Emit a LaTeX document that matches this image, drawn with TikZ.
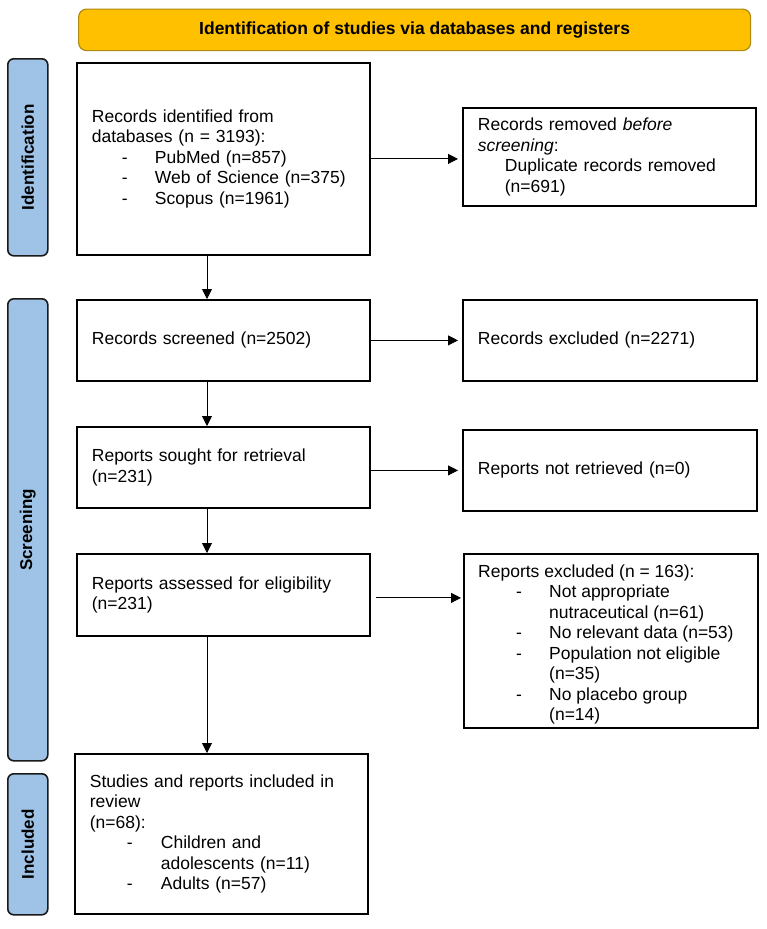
\documentclass[tikz,border=0pt]{standalone}
\usepackage{fontspec}
\setmainfont{Liberation Sans}
\usetikzlibrary{arrows.meta}

\definecolor{headfill}{HTML}{FFC000}
\definecolor{headline}{HTML}{B08A10}
\definecolor{phasefill}{HTML}{9FC3E7}
\definecolor{phaseline}{HTML}{1A1A1A}

\newcommand{\bodyfont}{\fontsize{17.5}{20.5}\selectfont}
\newcommand{\labelfont}{\fontsize{17}{20}\selectfont\bfseries}
% bullet line: left indent, gap to item text, item text
\newcommand{\dashitem}[3]{\hspace*{#1}\makebox[#2][l]{-}#3}
\newcommand{\contline}[2]{\hspace*{#1}#2}

\tikzset{
  flowbox/.style={draw=black, line width=1.8pt, fill=white, anchor=north west,
    inner xsep=15pt, inner ysep=0pt, align=left, font=\bodyfont},
  flowtext/.style={anchor=west, inner sep=0pt, align=left, font=\bodyfont},
  phasebar/.style={draw=phaseline, fill=phasefill, line width=1.6pt,
    rounded corners=6pt, anchor=north west, minimum width=40pt, inner sep=0pt},
  phaselabel/.style={rotate=90, font=\labelfont, inner sep=0pt},
  headbar/.style={draw=headline, fill=headfill, line width=1.2pt,
    rounded corners=8pt, anchor=north west, inner sep=0pt,
    font=\fontsize{17.5}{20}\selectfont\bfseries},
  arr/.style={-{Triangle[length=10pt,width=10pt]}, line width=0.9pt, draw=black},
}

\begin{document}
\begin{tikzpicture}[x=1pt,y=-1pt]
\useasboundingbox[fill=white] (0,0) rectangle (767,929);

% title banner
\node[headbar, minimum width=672pt, minimum height=41.5pt] (head) at (78,8.5)
  {Identification of studies via databases and registers};

% phase bars on the left
\node[phasebar, minimum height=197pt] (pid) at (7,58) {};
\node[phaselabel] (pidl) at (pid.center) {Identification};
\node[phasebar, minimum height=462pt] (pscr) at (7,298) {};
\node[phaselabel] (pscrl) at (pscr.center) {Screening};
\node[phasebar, minimum height=141pt] (pinc) at (7,773) {};
\node[phaselabel] (pincl) at (pinc.center) {Included};

% main column
\node[flowbox, minimum width=293pt, minimum height=192pt, text width=263pt] (b1) at (76,62)
  {Records identified from\\
   databases (n = 3193):\\
   \dashitem{30pt}{33pt}{PubMed (n=857)}\\
   \dashitem{30pt}{33pt}{Web of Science (n=375)}\\
   \dashitem{30pt}{33pt}{Scopus (n=1961)}};

\node[flowbox, minimum width=293pt, minimum height=81pt, text width=263pt] (b2) at (76,299)
  {Records screened (n=2502)};

\node[flowbox, minimum width=293pt, minimum height=81pt, text width=263pt] (b3) at (76,426)
  {Reports sought for retrieval\\(n=231)};

\node[flowbox, minimum width=293pt, minimum height=82pt, text width=263pt] (b4) at (76,553)
  {Reports assessed for eligibility\\(n=231)};

\node[flowbox, minimum width=293pt, minimum height=160pt, text width=263pt] (b5) at (74,753)
  {Studies and reports included in\\
   review\\
   (n=68):\\
   \dashitem{37pt}{34pt}{Children and}\\
   \contline{71pt}{adolescents (n=11)}\\
   \dashitem{37pt}{34pt}{Adults (n=57)}};

% side column
\node[flowbox, minimum width=293pt, minimum height=98pt, text width=263pt] (rm) at (462,107)
  {Records removed \textit{before}\\
   \textit{screening}:\\
   \contline{27pt}{Duplicate records removed}\\
   \contline{27pt}{(n=691)}};

\node[flowbox, minimum width=294pt, minimum height=81pt, text width=264pt] (ex2) at (462,299)
  {Records excluded (n=2271)};

\node[flowbox, minimum width=294pt, minimum height=81pt, text width=264pt] (nr) at (462,429)
  {Reports not retrieved (n=0)};

\node[flowbox, minimum width=294pt, minimum height=174pt] (ex4) at (463,553) {};
\node[flowtext, font=\fontsize{17.5}{20.5}\selectfont] (ex4t)
  at ([xshift=15pt, yshift=-3.5pt]ex4.west)
  {Reports excluded (n = 163):\\
   \dashitem{38pt}{33pt}{Not appropriate}\\
   \contline{71pt}{nutraceutical (n=61)}\\
   \dashitem{38pt}{33pt}{No relevant data (n=53)}\\
   \dashitem{38pt}{33pt}{Population not eligible}\\
   \contline{71pt}{(n=35)}\\
   \dashitem{38pt}{33pt}{No placebo group}\\
   \contline{71pt}{(n=14)}};

% connectors
\coordinate (spine) at (207,0);
\draw[arr] (b1.south -| spine) -- (b2.north -| spine);
\draw[arr] (b2.south -| spine) -- (b3.north -| spine);
\draw[arr] (b3.south -| spine) -- (b4.north -| spine);
\draw[arr] (b4.south -| spine) -- (b5.north -| spine);

\draw[arr, shorten >=4pt] (b1.east) -- (b1.east -| rm.west);
\draw[arr, shorten >=4pt] (b2.east) -- (b2.east -| ex2.west);
\draw[arr, shorten >=4pt] (b3.east |- nr.west) -- (nr.west);
\draw[arr, shorten >=2pt] ([xshift=5pt,yshift=-3pt]b4.east) -- ([yshift=-3pt]b4.east -| ex4.west);
\end{tikzpicture}
\end{document}
